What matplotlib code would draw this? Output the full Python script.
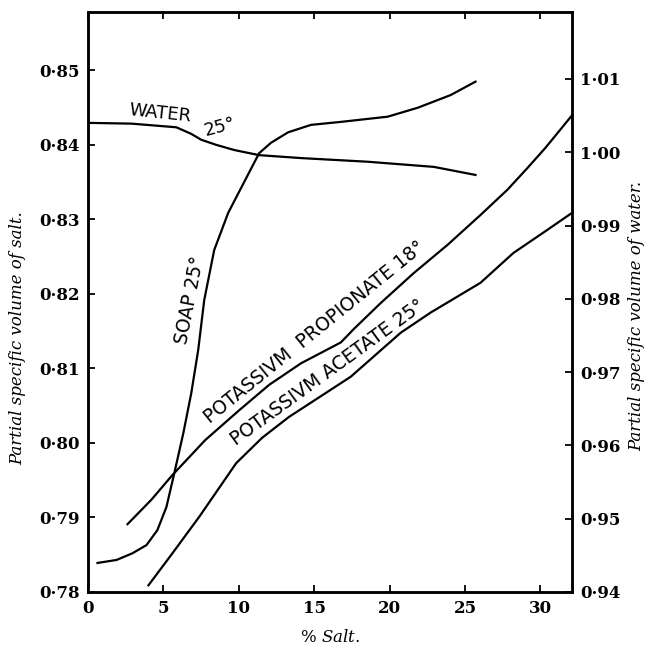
import matplotlib
matplotlib.use("Agg")
import matplotlib.pyplot as plt
from matplotlib.ticker import FuncFormatter

# donnees (% sel, volume specifique partiel)
soap_x = [0.63, 1.89, 2.95, 3.88, 4.60, 5.20, 5.73, 6.32, 6.85, 7.31, 7.71, 8.37, 9.30,
          11.35, 12.14, 13.27, 14.79, 16.77, 19.88, 21.87, 24.05, 25.70]
soap_y = [0.7839, 0.7843, 0.7852, 0.7863, 0.7883, 0.7914, 0.7960, 0.8013, 0.8067, 0.8125,
          0.8192, 0.8259, 0.8309, 0.8389, 0.8403, 0.8417, 0.8427, 0.8431, 0.8438, 0.8450,
          0.8467, 0.8485]

prop_x = [2.62, 4.21, 5.60, 7.78, 10.03, 12.01, 14.13, 16.77, 17.63, 19.42, 21.60, 23.85,
          26.03, 27.82, 29.14, 30.33, 32.11]
prop_y = [0.7891, 0.7924, 0.7957, 0.8004, 0.8044, 0.8078, 0.8107, 0.8135, 0.8153, 0.8188,
          0.8228, 0.8266, 0.8306, 0.8340, 0.8369, 0.8396, 0.8440]

acet_x = [4.01, 5.60, 7.38, 9.83, 11.55, 13.33, 17.43, 20.74, 22.72, 26.03, 28.21, 30.46, 32.11]
acet_y = [0.7809, 0.7852, 0.7901, 0.7973, 0.8007, 0.8035, 0.8089, 0.8148, 0.8175, 0.8215,
          0.8255, 0.8286, 0.8309]

# eau : axe de droite
water_x = [0.11, 2.88, 5.86, 6.85, 7.51, 8.51, 9.70, 11.35, 14.13, 18.56, 22.93, 25.70]
water_y = [1.0040, 1.0039, 1.0034, 1.0025, 1.0017, 1.0010, 1.0003, 0.9996, 0.9992, 0.9987,
           0.9980, 0.9969]

x_ticks = [0, 5, 10, 15, 20, 25, 30]
left_ticks = [0.78, 0.79, 0.80, 0.81, 0.82, 0.83, 0.84, 0.85]
right_ticks = [0.94, 0.95, 0.96, 0.97, 0.98, 0.99, 1.00, 1.01]

serif = "DejaVu Serif"
hand = "DejaVu Sans"
plt.rcParams["mathtext.fontset"] = "dejavuserif"


def dot_fmt(v, pos):
    return ("%.2f" % v).replace(".", "\u00b7")


fig = plt.figure(figsize=(6.49, 6.52), dpi=100)
ax = fig.add_axes([88 / 649, 60 / 652, 484 / 649, 580 / 652])
ax2 = ax.twinx()

lw = 1.6
ax.plot(soap_x, soap_y, color="black", lw=lw)
ax.plot(prop_x, prop_y, color="black", lw=lw)
ax.plot(acet_x, acet_y, color="black", lw=lw)
ax2.plot(water_x, water_y, color="black", lw=lw)

ax.set_xlim(0, 32.1)
ax.set_ylim(0.78, 0.85785)
ax2.set_ylim(0.94, 1.01913)

ax.set_xticks(x_ticks)
ax.set_yticks(left_ticks)
ax2.set_yticks(right_ticks)
ax.yaxis.set_major_formatter(FuncFormatter(dot_fmt))
ax2.yaxis.set_major_formatter(FuncFormatter(dot_fmt))

ax.tick_params(direction="in", length=5, width=1.3, top=True, right=False,
               labelsize=12, pad=6)
ax2.tick_params(direction="in", length=5, width=1.3, labelsize=12, pad=6)
for t in ax.get_xticklabels() + ax.get_yticklabels() + ax2.get_yticklabels():
    t.set_fontfamily(serif)
    t.set_fontweight("bold")

for a in (ax, ax2):
    for s in a.spines.values():
        s.set_linewidth(1.8)

# titres des axes
fig.text(18 / 649, 1 - 338 / 652, "Partial specific volume of salt.", rotation=90,
         ha="center", va="center", fontsize=12, style="italic", family=serif)
fig.text(637 / 649, 1 - 316 / 652, "Partial specific volume of water.", rotation=90,
         ha="center", va="center", fontsize=12, style="italic", family=serif)
fig.text(330 / 649, 1 - 637 / 652, "% $\\it{Salt.}$", ha="center", va="center",
         fontsize=12, family=serif)

# etiquettes dessinees a la main
ax.text(4.77, 0.8443, "WATER", rotation=-6, ha="center", va="center", fontsize=13,
        family=hand)
ax.text(8.75, 0.8424, "25°", rotation=15, ha="center", va="center", fontsize=13,
        family=hand)
ax.text(6.76, 0.8192, "SOAP 25°", rotation=79, ha="center", va="center", fontsize=13.5,
        family=hand)
ax.text(15.05, 0.8149, "POTASSIVM  PROPIONATE 18°", rotation=39, ha="center",
        va="center", fontsize=13.5, family=hand)
ax.text(15.92, 0.8094, "POTASSIVM ACETATE 25°", rotation=36, ha="center", va="center",
        fontsize=13.5, family=hand)

fig.savefig("out.png", dpi=100)
